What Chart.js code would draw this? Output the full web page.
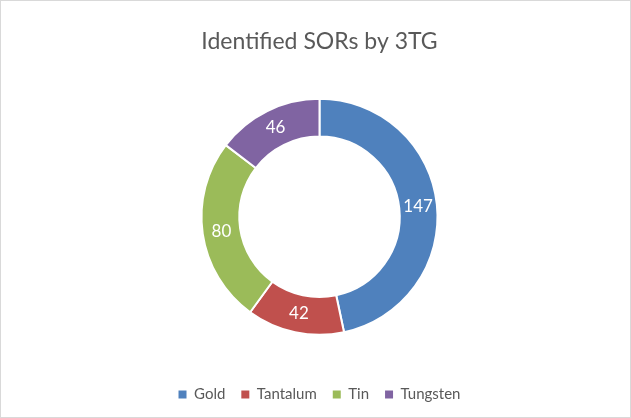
<!DOCTYPE html>
<html>
<head>
<meta charset="utf-8">
<script src="https://cdn.jsdelivr.net/npm/chart.js@4/dist/chart.umd.min.js"></script>
<style>
    html, body { margin: 0; padding: 0; background: #fff; }
    .chart-box {
        position: relative;
        width: 631px;
        height: 418px;
        box-sizing: border-box;
        border: 1px solid #d9d9d9;
    }
</style>
</head>
<body>
<div class="chart-box">
    <canvas id="sorChart"></canvas>
</div>
<script>
const categories = ['Gold', 'Tantalum', 'Tin', 'Tungsten'];
const sorCounts = [147, 42, 80, 46];
const sliceColors = ['#4f81bd', '#c0504d', '#9bbb59', '#8064a2'];

const FONT = 'Lato, "Open Sans", sans-serif';
const TEXT_GREY = '#595959';

// white numbers in the middle of each ring segment
const sliceLabels = {
    id: 'sliceLabels',
    afterDatasetsDraw(chart) {
        const ctx = chart.ctx;
        const meta = chart.getDatasetMeta(0);
        ctx.save();
        ctx.font = `17px ${FONT}`;
        ctx.fillStyle = '#fff';
        ctx.textAlign = 'center';
        ctx.textBaseline = 'middle';
        meta.data.forEach((arc, i) => {
            const pos = arc.tooltipPosition();
            ctx.fillText(sorCounts[i], pos.x, pos.y);
        });
        ctx.restore();
    },
};

document.addEventListener('DOMContentLoaded', () => {
    const data = {
        labels: categories,
        datasets: [
            {
                data: sorCounts,
                backgroundColor: sliceColors,
                borderColor: '#fff',
                borderWidth: 2,
                radius: 118,
                cutout: '68%',
            },
        ],
    };
    const config = {
        type: 'doughnut',
        data: data,
        options: {
            responsive: true,
            maintainAspectRatio: false,
            animation: false,
            layout: {
                padding: { left: 8, right: 0, top: 0, bottom: 5 },
            },
            plugins: {
                title: {
                    display: true,
                    text: 'Identified SORs by 3TG',
                    color: TEXT_GREY,
                    font: { family: FONT, size: 23, weight: 'normal' },
                    padding: { top: 27, bottom: 7 },
                },
                legend: {
                    position: 'bottom',
                    labels: {
                        color: TEXT_GREY,
                        font: { family: FONT, size: 15 },
                        boxWidth: 8,
                        boxHeight: 8,
                        padding: 16,
                        generateLabels(chart) {
                            const items = Chart.overrides.doughnut.plugins.legend.labels.generateLabels(chart);
                            return items.map((it) => ({ ...it, lineWidth: 0 }));
                        },
                    },
                },
                tooltip: { enabled: false },
            },
        },
        plugins: [sliceLabels],
    };
    new Chart(document.getElementById('sorChart'), config);
});
</script>
</body>
</html>
